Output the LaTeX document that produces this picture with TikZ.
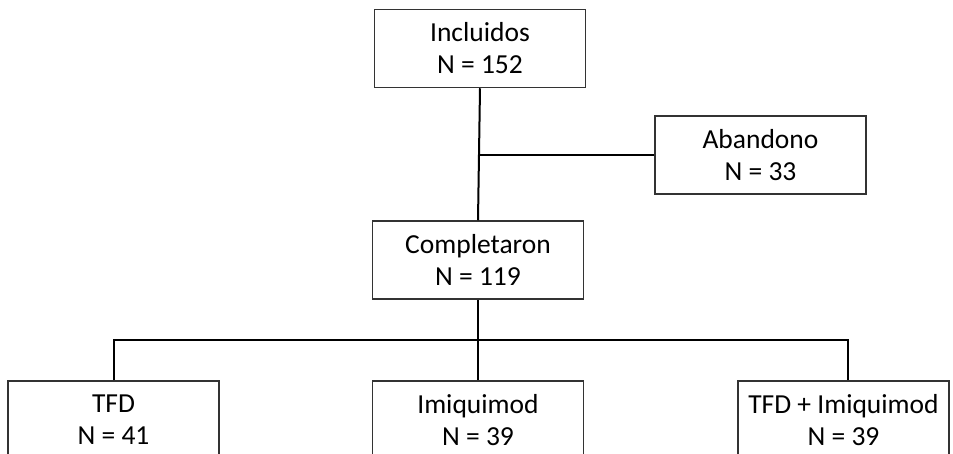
\documentclass[tikz,border=0pt]{standalone}
\usepackage{fontspec}
\setmainfont{Carlito}
\begin{document}
\begin{tikzpicture}[x=1pt,y=-1pt,
  box/.style={draw=black!80, line width=1.5pt, minimum width=211pt, minimum height=78pt,
    inner sep=0pt, align=center, font=\fontsize{27.5}{32}\selectfont},
  conn/.style={draw=black, line width=2pt}]
\clip (0,0) rectangle (953,453);
\fill[white] (0,0) rectangle (953,453);
\node[box] (inc) at (480,48.5) {Incluidos\\N = 152};
\node[box] (aba) at (760.5,155) {Abandono\\N = 33};
\node[box] (com) at (478,260) {Completaron\\N = 119};
\node[box] (tfd) at (113.5,420) {TFD\\N = 41};
\node[box] (imi) at (478,420) {Imiquimod\\N = 39};
\node[box] (both) at (843.5,420) {TFD + Imiquimod\\N = 39};
\coordinate (bl) at (114,340);
\coordinate (br) at (848,340);
\coordinate (ab) at (479,155);
\draw[conn] (inc.south) -- (com.north);
\draw[conn] (aba.west) -- (ab);
\draw[conn] (com.south) -- (imi.north);
\draw[conn] (tfd.north -| bl) -- (bl) -- (br) -- (both.north -| br);
\end{tikzpicture}
\end{document}
